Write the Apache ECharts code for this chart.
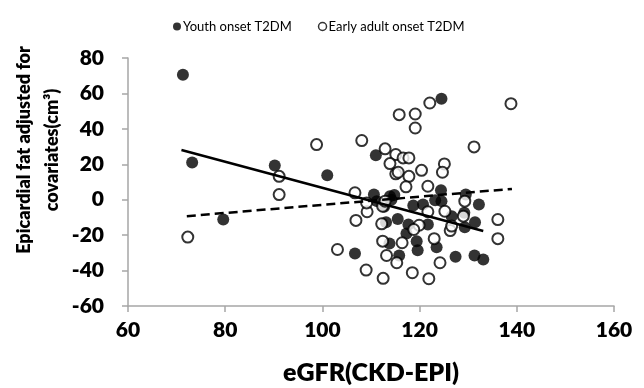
<!DOCTYPE html>
<html>
<head>
<meta charset="utf-8">
<script src="https://cdn.jsdelivr.net/npm/echarts@6/dist/echarts.min.js"></script>
<style>
  html, body { margin: 0; padding: 0; background: #fff; }
  #chart { width: 644px; height: 388px; }
</style>
</head>
<body>
<div id="chart"></div>
<script>
// eGFR vs epicardial fat, two onset groups
let youthPoints = [
  [71.3, 70.6], [73.2, 21.0], [79.6, -11.2], [90.2, 19.3], [101.0, 13.8], [111.0, 25.1],
  [110.6, 2.9], [113.9, 2.0], [114.8, 2.6], [114.2, 0.0], [111.2, -0.8], [112.7, -4.0],
  [106.7, -30.3], [113.1, -12.7], [115.5, -10.9], [113.8, -24.7], [115.8, -31.5], [124.5, 57.0],
  [124.4, 5.4], [129.5, 2.9], [132.2, -2.7], [127.4, -32.2], [131.3, -31.5], [133.1, -33.7],
  [131.4, -12.7], [129.3, -15.5], [129.2, -7.4], [126.6, -9.3], [121.7, -14.0], [123.5, -26.8],
  [119.6, -28.5], [119.4, -23.4], [117.3, -19.1], [117.7, -14.0], [118.7, -3.3], [120.7, -2.7],
  [123.2, -0.3], [124.5, -0.8]
]
let adultPoints = [
  [72.3, -21.1], [91.1, 13.2], [91.1, 2.9], [98.8, 31.1], [108.1, 33.4], [112.9, 28.7],
  [115.8, 48.0], [119.1, 48.4], [119.1, 40.5], [106.7, 3.9], [109.2, -6.8], [106.9, -11.7],
  [103.1, -28.1], [109.0, -39.7], [112.5, -44.4], [112.2, -13.6], [112.4, -23.4], [113.2, -31.5],
  [115.3, -35.6], [122.1, 54.6], [138.8, 54.2], [131.2, 29.8], [115.1, 25.5], [116.6, 23.6],
  [117.8, 23.6], [113.9, 20.4], [125.1, 20.2], [124.7, 15.5], [120.4, 16.6], [115.1, 14.6],
  [115.6, 15.5], [117.8, 13.2], [117.2, 7.3], [121.7, 7.6], [129.3, -0.8], [136.1, -11.2],
  [136.1, -22.0], [118.5, -41.2], [121.9, -44.6], [116.4, -24.3], [123.0, -22.0], [126.3, -17.4],
  [126.6, -14.9], [125.2, -6.5], [119.9, -14.4], [121.7, -6.8], [112.4, -3.7], [109.1, -1.8],
  [118.8, -16.8], [124.2, -35.6], [112.9, -0.8], [129.0, -9.3]
]
// trend line end points
let youthFit = [[71.0, 28.1], [133.1, -17.7]]
let adultFit = [[72.1, -9.3], [139.0, 6.1]]

let seriesNames = ['Youth onset T2DM', 'Early adult onset T2DM']
let xTicks = [60, 160, 20]
let yTicks = [-60, 80, 20]
let xTitle = 'eGFR(CKD-EPI)'
let yTitle = 'Epicardial fat adjusted for\ncovariates(cm³)'

let font = 'Lato'
let axisGray = '#a6a6a6'

let myChart = echarts.init(document.getElementById('chart'))
myChart.setOption({
  animation: false,
  textStyle: { fontFamily: font },
  grid: {
    left: 128,
    right: 30,
    top: 58,
    bottom: 82,
    outerBoundsMode: 'none'
  },
  legend: {
    data: [
      { name: seriesNames[0], itemStyle: { color: '#000' } },
      { name: seriesNames[1], itemStyle: { color: '#fff', borderColor: '#000', borderWidth: 1.5 } }
    ],
    left: 168,
    top: 15,
    icon: 'circle',
    itemWidth: 8,
    itemHeight: 8,
    itemGap: 26,
    textStyle: { fontFamily: font, fontSize: 13, color: '#000', padding: [0, 0, 0, -3] }
  },
  graphic: [
    {
      type: 'text',
      x: 38,
      y: 150,
      rotation: Math.PI / 2,
      style: {
        text: yTitle,
        font: '800 18px ' + font,
        fill: '#000',
        align: 'center',
        verticalAlign: 'middle',
        lineHeight: 28
      }
    }
  ],
  xAxis: {
    type: 'value',
    min: xTicks[0],
    max: xTicks[1],
    interval: xTicks[2],
    name: xTitle,
    nameLocation: 'middle',
    nameGap: 54,
    nameTextStyle: { fontFamily: font, fontSize: 25, fontWeight: 800, color: '#000' },
    splitLine: { show: false },
    axisLine: { show: true, onZero: false, lineStyle: { color: axisGray, width: 1.5 } },
    axisTick: { show: true, length: 6, lineStyle: { color: axisGray, width: 1.5 } },
    axisLabel: { margin: 14, fontFamily: font, fontSize: 21, fontWeight: 800, color: '#000' }
  },
  yAxis: {
    type: 'value',
    min: yTicks[0],
    max: yTicks[1],
    interval: yTicks[2],
    splitLine: { show: false },
    axisLine: { show: true, onZero: false, lineStyle: { color: axisGray, width: 1.5 } },
    axisTick: { show: true, length: 6, lineStyle: { color: axisGray, width: 1.5 } },
    axisLabel: { margin: 24, fontFamily: font, fontSize: 21, fontWeight: 800, color: '#000' }
  },
  series: [
    {
      name: seriesNames[0],
      type: 'scatter',
      data: youthPoints,
      symbol: 'circle',
      symbolSize: 12,
      itemStyle: { color: '#000' },
      z: 2
    },
    {
      name: seriesNames[1],
      type: 'scatter',
      data: adultPoints,
      symbol: 'circle',
      symbolSize: 11,
      itemStyle: { color: '#fff', borderColor: '#000', borderWidth: 2 },
      z: 3
    },
    {
      name: 'youthFit',
      type: 'line',
      data: youthFit,
      showSymbol: false,
      symbol: 'none',
      lineStyle: { color: '#000', width: 2.5 },
      z: 4
    },
    {
      name: 'adultFit',
      type: 'line',
      data: adultFit,
      showSymbol: false,
      symbol: 'none',
      lineStyle: { color: '#000', width: 2.5, type: [9, 5] },
      z: 4
    }
  ]
})
</script>
</body>
</html>
